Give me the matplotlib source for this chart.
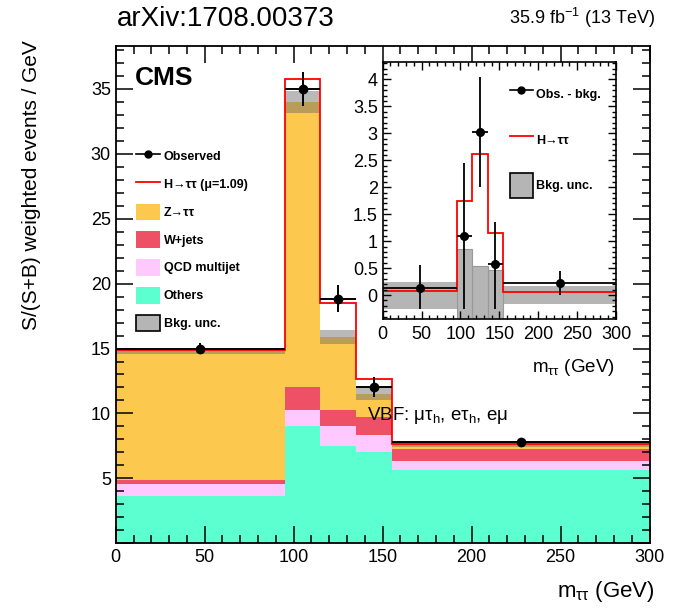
import numpy as np
import matplotlib
matplotlib.use("Agg")
import matplotlib.pyplot as plt
from matplotlib.ticker import MultipleLocator, FuncFormatter
from matplotlib.patches import Patch
from matplotlib.lines import Line2D

plt.rcParams['font.family'] = ['Liberation Sans', 'DejaVu Sans']
plt.rcParams['mathtext.fontset'] = 'custom'
plt.rcParams['mathtext.rm'] = 'Liberation Sans'
plt.rcParams['mathtext.it'] = 'Liberation Sans'

# m_tautau bins (GeV)
edges = [0, 95, 115, 135, 155, 300]
centers = [47.5, 105, 125, 145, 227.5]

# stacked backgrounds, S/(S+B) weighted events / GeV
others = [3.62, 9.01, 7.51, 7.02, 5.67]
qcd = [0.98, 1.26, 1.50, 1.35, 0.64]
wjets = [0.30, 1.78, 1.26, 1.33, 0.97]
ztt = [9.90, 21.92, 5.63, 1.80, 0.34]
bkg_unc = [0.25, 0.85, 0.53, 0.47, 0.17]
signal = [0.07, 1.75, 2.62, 1.15, 0.05]

obs = [15.0, 35.0, 18.82, 12.05, 7.80]
obs_lo = [0.40, 1.33, 1.00, 0.76, 0.20]
obs_hi = [0.40, 1.30, 1.10, 0.77, 0.20]

# inset: observed minus background
diff = [0.13, 1.10, 3.03, 0.57, 0.22]
diff_lo = [0.38, 1.35, 1.03, 0.82, 0.22]
diff_hi = [0.42, 1.35, 1.02, 0.78, 0.23]

c_ztt = '#FDC84E'
c_w = '#EE5066'
c_qcd = '#FFC8FF'
c_oth = '#5CFFD0'
c_unc = '#686868'

edges = np.array(edges)
xerr = [np.array(centers) - edges[:-1], edges[1:] - np.array(centers)]

fig = plt.figure(figsize=(6.74, 6.09), dpi=100)
ax = fig.add_axes([0.1717, 0.1079, 0.792, 0.8166])

bottom = np.zeros(5)
for vals, col in [(others, c_oth), (qcd, c_qcd), (wjets, c_w), (ztt, c_ztt)]:
    top = bottom + np.array(vals)
    ax.stairs(top, edges, baseline=bottom, fill=True, color=col, lw=0)
    bottom = top
bkg = bottom
ax.stairs(bkg + np.array(bkg_unc), edges, baseline=bkg - np.array(bkg_unc),
          fill=True, color=c_unc, alpha=0.46, lw=0)
ax.stairs(bkg + np.array(signal), edges, baseline=None, color='red', lw=1.3)
ax.errorbar(centers, obs, yerr=[obs_lo, obs_hi], xerr=xerr, fmt='o', color='black',
            ms=6, elinewidth=1.4, capsize=0, zorder=5)

ax.set_xlim(0, 300)
ax.set_ylim(0, 38.3)
ax.xaxis.set_major_locator(MultipleLocator(50))
ax.xaxis.set_minor_locator(MultipleLocator(10))
ax.yaxis.set_major_locator(MultipleLocator(5))
ax.yaxis.set_minor_locator(MultipleLocator(1))
ax.yaxis.set_major_formatter(FuncFormatter(lambda v, p: '' if v == 0 else f'{v:g}'))
ax.tick_params(which='both', direction='in', top=True, right=True, labelsize=13, width=1.1)
ax.tick_params(which='major', length=12)
ax.tick_params(which='minor', length=5.5)
ax.tick_params(axis='x', pad=4)
for s in ax.spines.values():
    s.set_linewidth(1.3)

fig.text(135 / 674, 1 - 78 / 609, 'CMS', fontsize=19, fontweight='bold', va='center')
fig.text(367 / 674, 1 - 415 / 609, r'VBF: $\mu\tau_{h}$, e$\tau_{h}$, e$\mu$', fontsize=13.5, va='center')
fig.text(117 / 674, 1 - 19 / 609, 'arXiv:1708.00373', fontsize=20, va='center')
fig.text(655 / 674, 1 - 18 / 609, r'35.9 fb$^{-1}$ (13 TeV)', fontsize=13, ha='right', va='center')
fig.text(655 / 674, 1 - 592 / 609, r'm$_{\tau\tau}$ (GeV)', fontsize=16, ha='right', va='center')
fig.text(32 / 674, 1 - 40 / 609, 'S/(S+B) weighted events / GeV', fontsize=15,
         rotation=90, ha='center', va='top')

handles = [
    Line2D([], [], color='black', marker='o', ms=5, lw=1.2),
    Line2D([], [], color='red', lw=1.3),
    Patch(facecolor=c_ztt), Patch(facecolor=c_w), Patch(facecolor=c_qcd),
    Patch(facecolor=c_oth), Patch(facecolor='#b5b5b5', edgecolor='black', lw=1.2),
]
labels = ['Observed', 'H→ττ (μ=1.09)', 'Z→ττ',
          'W+jets', 'QCD multijet', 'Others', 'Bkg. unc.']
leg = ax.legend(handles, labels, loc='upper left', bbox_to_anchor=(136 / 674, 1 - 148 / 609),
                bbox_transform=fig.transFigure, frameon=False, borderpad=0, borderaxespad=0,
                handlelength=1.9, handleheight=1.7, labelspacing=0.87, handletextpad=0.3,
                prop={'size': 9, 'weight': 'bold'})

# inset
axi = fig.add_axes([0.5678, 0.4757, 0.3462, 0.423])
axi.set_facecolor('white')
axi.stairs(np.array(bkg_unc), edges, baseline=-np.array(bkg_unc), fill=True,
           color='#b5b5b5', lw=0)
for i in (1, 2, 3):
    axi.stairs([bkg_unc[i]], edges[i:i + 2], baseline=-bkg_unc[i], fill=False,
               color='#999999', lw=0.8)
axi.stairs(signal, edges, baseline=-0.45, color='red', lw=1.3)
axi.errorbar(centers, diff, yerr=[diff_lo, diff_hi], xerr=xerr, fmt='o', color='black',
             ms=5.5, elinewidth=1.3, capsize=0, zorder=5)
axi.set_xlim(0, 300)
axi.set_ylim(-0.45, 4.33)
axi.xaxis.set_major_locator(MultipleLocator(50))
axi.xaxis.set_minor_locator(MultipleLocator(10))
axi.yaxis.set_major_locator(MultipleLocator(0.5))
axi.yaxis.set_minor_locator(MultipleLocator(0.1))
axi.yaxis.set_major_formatter(FuncFormatter(lambda v, p: f'{v:g}'))
axi.tick_params(which='both', direction='in', top=True, right=True, labelsize=13, width=1)
axi.tick_params(which='major', length=6)
axi.tick_params(which='minor', length=3)
axi.tick_params(axis='x', pad=5)
for s in axi.spines.values():
    s.set_linewidth(1.2)
fig.text(615 / 674, 1 - 367 / 609, r'm$_{\tau\tau}$ (GeV)', fontsize=13.5, ha='right', va='center')

ihandles = [
    Line2D([], [], color='black', marker='o', ms=5, lw=1.2),
    Line2D([], [], color='red', lw=1.3),
    Patch(facecolor='#b5b5b5', edgecolor='black', lw=1.2),
]
ilabels = ['Obs. - bkg.', 'H→ττ', 'Bkg. unc.']
axi.legend(ihandles, ilabels, loc='upper left', bbox_to_anchor=(510 / 674, 1 - 82 / 609),
           bbox_transform=fig.transFigure, frameon=False, borderpad=0, borderaxespad=0,
           handlelength=1.8, handleheight=2.6, labelspacing=1.72, handletextpad=0.3,
           prop={'size': 9, 'weight': 'bold'})

fig.savefig('out.png', dpi=100)
